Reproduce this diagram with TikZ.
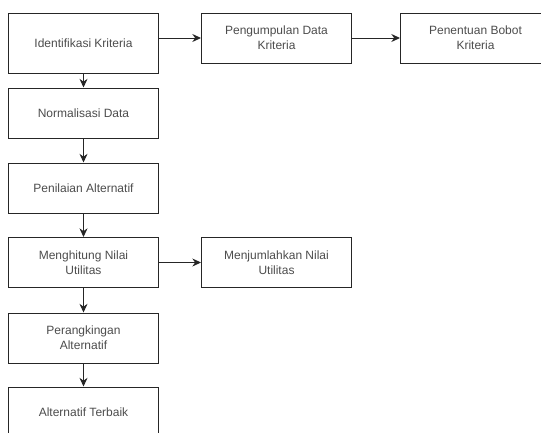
\documentclass[tikz,border=0pt]{standalone}
\usepackage{fontspec}
\setmainfont{Liberation Sans}
\usetikzlibrary{arrows.meta}
\begin{document}
\begin{tikzpicture}[x=0.75pt, y=-0.75pt, box style/.style={draw=black!85, line width=0.75pt, rectangle, minimum width=112.5pt, minimum height=37.5pt, inner sep=2pt, align=center, text=black!70, font=\fontsize{9}{11}\selectfont}, arrow style/.style={draw=black!85, line width=0.75pt, -{Stealth[length=6.5pt, width=6pt]}}]
	\useasboundingbox (0, 0) rectangle (541, 432);
	\node[box style, minimum height=45pt] (S1) at (83.5, 43) {Identifikasi Kriteria};
	\node[box style] (S2) at (83.5, 113) {Normalisasi Data};
	\node[box style] (S3) at (83.5, 188) {Penilaian Alternatif};
	\node[box style] (S4) at (83.5, 262.5) {Menghitung Nilai\\Utilitas};
	\node[box style] (S5) at (83.5, 338) {Perangkingan\\Alternatif};
	\node[box style] (S6) at (83.5, 412) {Alternatif Terbaik};
	\node[box style] (S7) at (276.5, 38) {Pengumpulan Data\\Kriteria};
	\node[box style] (S8) at (475.5, 38) {Penentuan Bobot\\Kriteria};
	\node[box style] (S9) at (276.5, 262.5) {Menjumlahkan Nilai\\Utilitas};
	\foreach \y/\z in {1/2,2/3,3/4,4/5,5/6}
	\draw[arrow style] (S\y) -- (S\z);
	\draw[arrow style] (S1.east |- S7.west) -- (S7.west);
	\draw[arrow style] (S7) -- (S8);
	\draw[arrow style] (S4) -- (S9);
\end{tikzpicture}
\end{document}
